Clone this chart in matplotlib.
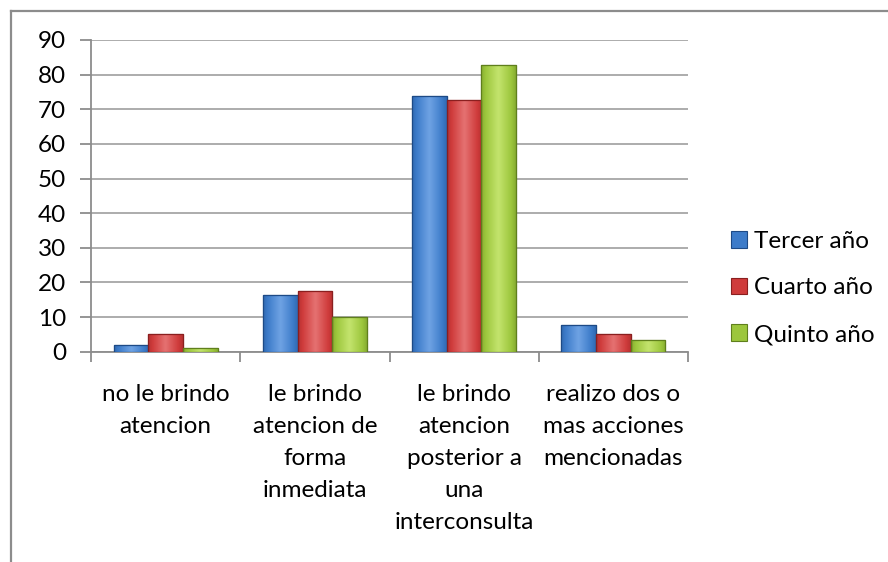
import numpy as np
import matplotlib
matplotlib.use("Agg")
import matplotlib.pyplot as plt
from matplotlib.lines import Line2D
from matplotlib.patches import Rectangle
from matplotlib.colors import LinearSegmentedColormap

plt.rcParams['font.family'] = ['Lato', 'DejaVu Sans']

categories = [
    "no le brindo\natencion",
    "le brindo\natencion de\nforma\ninmediata",
    "le brindo\natencion\nposterior a\nuna\ninterconsulta",
    "realizo dos o\nmas acciones\nmencionadas",
]
series_names = ["Tercer año", "Cuarto año", "Quinto año"]
tercer = [2.0, 16.5, 73.8, 7.8]
cuarto = [5.1, 17.6, 72.6, 5.1]
quinto = [1.1, 10.1, 82.8, 3.5]

# base, light and dark shade for each series
palette = [
    ("#3c7bc9", "#6fa3e4", "#1d4a86"),
    ("#cf3b3b", "#e57272", "#8a1f1f"),
    ("#9cc63c", "#c4e46e", "#5f7f1c"),
]

FS = 17.5

fig = plt.figure(figsize=(8.88, 5.62), dpi=100)
W, H = 888, 562
ax = fig.add_axes([91 / W, (H - 351.7) / H, (688 - 91) / W, (351.7 - 40) / H])

x = np.arange(len(categories))
bw = 0.232
offsets = [-bw, 0, bw]

for vals, off, (base, light, dark) in zip([tercer, cuarto, quinto], offsets, palette):
    bars = ax.bar(x + off, vals, width=bw, color=base, edgecolor=dark,
                  linewidth=0.8, zorder=3)
    cmap = LinearSegmentedColormap.from_list("g", [dark, base, light, base, dark])
    grad = np.linspace(0, 1, 64).reshape(1, -1)
    for b in bars:
        bx, by = b.get_x(), b.get_y()
        bwid, bh = b.get_width(), b.get_height()
        im = ax.imshow(grad, cmap=cmap, aspect='auto', zorder=3.5,
                       extent=[bx, bx + bwid, by, by + bh], interpolation='bicubic',
                       vmin=-0.25, vmax=1.25)
        im.set_clip_path(b)
        # darker edge outline on top
        ax.add_patch(Rectangle((bx, by), bwid, bh, fill=False, edgecolor=dark,
                               linewidth=0.9, zorder=4))

ax.set_xlim(-0.5, len(categories) - 0.5)
ax.set_ylim(0, 90)
ax.set_yticks(np.arange(0, 91, 10))
ax.yaxis.grid(True, color="#a6a6a6", linewidth=1.3, zorder=0)
ax.set_axisbelow(True)

for s in ["top", "right"]:
    ax.spines[s].set_visible(False)
for s in ["left", "bottom"]:
    ax.spines[s].set_color("#8c8c8c")
    ax.spines[s].set_linewidth(1.3)

ax.tick_params(axis='y', length=8, width=1.3, color="#8c8c8c", pad=10, labelsize=FS)
ax.set_xticks(x)
ax.set_xticklabels(categories, fontsize=FS, linespacing=1.65, va='top')
ax.tick_params(axis='x', which='major', length=0, pad=23)
ax.set_xticks(np.arange(-0.5, len(categories), 1.0), minor=True)
ax.tick_params(axis='x', which='minor', length=7, width=1.3, color="#8c8c8c")
for lbl in ax.get_xticklabels():
    lbl.set_horizontalalignment('center')

# legend
handles = [Rectangle((0, 0), 1, 1, facecolor=p[0], edgecolor=p[2], linewidth=0.8)
           for p in palette]
fig.legend(handles, series_names, loc='center left',
           bbox_to_anchor=(721 / W, (H - 288) / H), frameon=False,
           fontsize=FS, handlelength=0.65, handleheight=0.65,
           handletextpad=0.3, labelspacing=1.05, borderaxespad=0)

# outer chart border
fig.add_artist(Line2D([10.5 / W, 1.0], [(H - 10.5) / H] * 2, color="#8c8c8c",
                      linewidth=1.6, transform=fig.transFigure))
fig.add_artist(Line2D([10.5 / W] * 2, [0, (H - 10.5) / H], color="#8c8c8c",
                      linewidth=1.6, transform=fig.transFigure))

fig.savefig("out.png", dpi=100)
